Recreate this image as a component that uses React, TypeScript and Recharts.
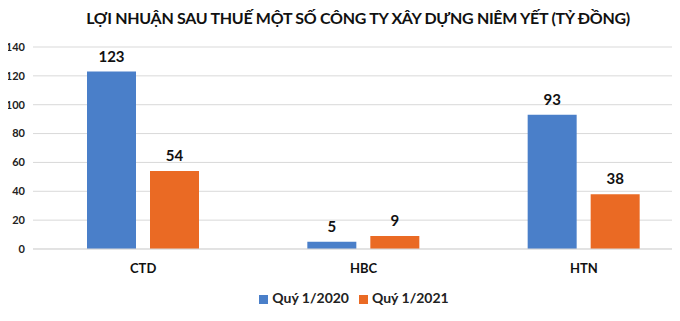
import React from 'react';
import { BarChart, Bar, XAxis, YAxis, CartesianGrid, Legend, LabelList } from 'recharts';

const companies = ['CTD', 'HBC', 'HTN'];
const q1_2020 = [123, 5, 93];
const q1_2021 = [54, 9, 38];
const yTicks = [0, 20, 40, 60, 80, 100, 120, 140];

const FONT = 'Lato, "Open Sans", sans-serif';

const data = companies.map((name, i) => ({
  name,
  q2020: q1_2020[i],
  q2021: q1_2021[i],
}));

const App: React.FC = () => {
  return (
    <div style={{ position: 'relative', margin: -8, width: 680, height: 321, overflow: 'hidden', background: '#fff', fontFamily: FONT }}>
      <div
        style={{
          position: 'absolute',
          top: 8,
          left: 0,
          width: 716,
          textAlign: 'center',
          fontSize: 16,
          fontWeight: 700,
          letterSpacing: -0.3,
          color: '#111',
          zIndex: 2,
        }}
      >
        LỢI NHUẬN SAU THUẾ MỘT SỐ CÔNG TY XÂY DỰNG NIÊM YẾT (TỶ ĐỒNG)
      </div>
      <BarChart
        width={700}
        height={321}
        data={data}
        margin={{ top: 47, right: 6, left: 0, bottom: 0 }}
        barGap={14}
        barSize={49}
      >
        <CartesianGrid vertical={false} stroke="#d9d9d9" />
        <XAxis
          dataKey="name"
          height={40}
          axisLine={{ stroke: '#d9d9d9' }}
          tickLine={false}
          tickMargin={9}
          tick={{ fill: '#111', fontSize: 13, fontWeight: 700, fontFamily: FONT }}
        />
        <YAxis
          width={33}
          domain={[0, 140]}
          ticks={yTicks}
          axisLine={false}
          tickLine={false}
          tick={{ fill: '#222', fontSize: 11, fontWeight: 700, fontFamily: FONT }}
        />
        <Legend
          verticalAlign="bottom"
          height={32}
          iconType="square"
          iconSize={9}
          wrapperStyle={{ fontSize: 14, fontWeight: 700, fontFamily: FONT, paddingLeft: 12 }}
          formatter={(value) => <span style={{ color: '#222' }}>{value}</span>}
        />
        <Bar dataKey="q2020" name="Quý 1/2020" fill="#4A7FC9" isAnimationActive={false}>
          <LabelList dataKey="q2020" position="top" offset={10} fill="#111" fontSize={15} fontWeight={700} fontFamily={FONT} />
        </Bar>
        <Bar dataKey="q2021" name="Quý 1/2021" fill="#EA6A24" isAnimationActive={false}>
          <LabelList dataKey="q2021" position="top" offset={10} fill="#111" fontSize={15} fontWeight={700} fontFamily={FONT} />
        </Bar>
      </BarChart>
    </div>
  );
};

export default App;
